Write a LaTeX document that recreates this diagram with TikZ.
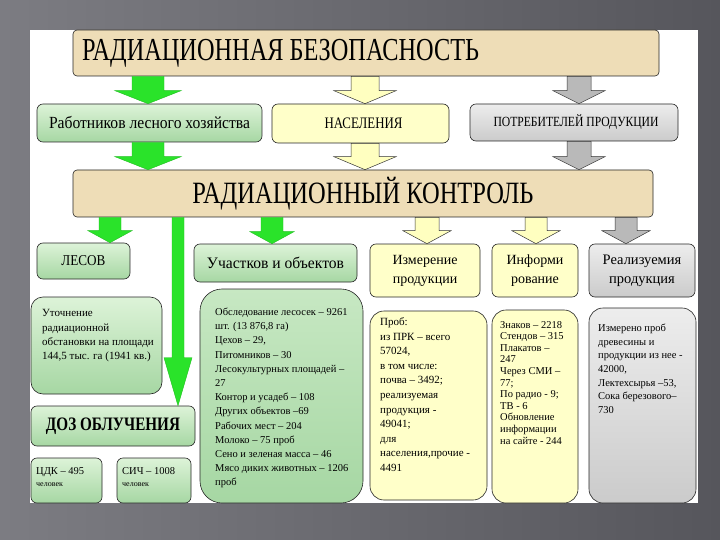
\documentclass[tikz,border=0pt]{standalone}
\usepackage{graphicx}
\usepackage{fontspec}
\setmainfont{Liberation Serif}
\newfontfamily\tms{Liberation Serif}
\usetikzlibrary{calc}
\definecolor{parch}{HTML}{EEDDB7}
\definecolor{gtop}{HTML}{DDF3D8}
\definecolor{gbot}{HTML}{A6D7A3}
\definecolor{yel}{HTML}{FFFFC9}
\definecolor{mtop}{HTML}{EDEDED}
\definecolor{mbot}{HTML}{CBCBCB}
\definecolor{garrow}{HTML}{2AE32A}
\definecolor{garrowd}{HTML}{1EBE1E}
\definecolor{yarrow}{HTML}{FFFFC0}
\definecolor{marrow}{HTML}{B9B9B9}
\definecolor{bgl}{HTML}{7C7C82}
\definecolor{bgr}{HTML}{56565C}
\newcommand\hfit[3]{\resizebox{#1}{\height}{\fontsize{#2}{#2}\selectfont #3}}
\newcommand\bx[7]{\node[#1, minimum width={(#5-#3)*1pt}, minimum height={(#6-#4)*1pt}] (#2) at ({(#3+#5)/2},{(#4+#6)/2}) {#7};}
\newcommand\barr[7]{\path[#1] let \p1=(#3.south), \p2=(#4.north) in
  ({(#2-#5)*1pt},\y1) -- ({(#2+#5)*1pt},\y1) -- ({(#2+#5)*1pt},{\y2+#7*1pt}) -- ({(#2+#6)*1pt},{\y2+#7*1pt}) -- ({#2*1pt},\y2) -- ({(#2-#6)*1pt},{\y2+#7*1pt}) -- ({(#2-#5)*1pt},{\y2+#7*1pt}) -- cycle;}
\tikzset{
  bord/.style={draw=black!85, line width=0.6pt},
  gbox/.style={bord, rounded corners=6pt, top color=gtop, bottom color=gbot, inner sep=0pt},
  ybox/.style={bord, rounded corners=6pt, fill=yel, inner sep=0pt},
  mbox/.style={bord, rounded corners=6pt, top color=mtop, bottom color=mbot, inner sep=0pt},
  pbox/.style={bord, rounded corners=4pt, fill=parch, inner sep=0pt},
  garr/.style={fill=garrow, draw=garrowd, line width=0.4pt},
  yarr/.style={fill=yarrow, draw=black!80, line width=0.5pt},
  marr/.style={fill=marrow, draw=black!80, line width=0.5pt},
  txt/.style={inner sep=0pt, align=left, anchor=north west},
  ctxt/.style={inner sep=0pt, align=center},
}
\begin{document}
\begin{tikzpicture}[x=1pt,y=-1pt, font=\tms]
\useasboundingbox (0,0) rectangle (720,540);
\shade[left color=bgl, right color=bgr] (0,0) rectangle (720,540);
\fill[white] (30,30) rectangle (698,503);

% top title
\bx{pbox}{title}{73}{30}{659}{76}{}
\node[inner sep=0pt, anchor=west] (ttitle) at (82,53) {\hfit{397pt}{32}{РАДИАЦИОННАЯ БЕЗОПАСНОСТЬ}};

% row 2
\bx{gbox}{rab}{37}{104}{262}{142}{\hfit{201pt}{17}{Работников лесного хозяйства}}
\bx{ybox}{nas}{272}{104}{449}{143}{\hspace*{6pt}\hfit{78pt}{16}{НАСЕЛЕНИЯ}}
\bx{mbox}{pot}{470}{104}{678}{141}{\hspace*{4pt}\hfit{165pt}{14}{ПОТРЕБИТЕЛЕЙ ПРОДУКЦИИ}}

% row 3
\bx{pbox}{ctrl}{73}{170}{653}{217}{\hfit{341pt}{31}{РАДИАЦИОННЫЙ КОНТРОЛЬ}}

% row 4
\bx{gbox}{les}{37}{243}{130}{279}{\hfit{44pt}{15}{ЛЕСОВ}}
\bx{gbox}{uch}{194}{244}{357}{282}{\hfit{137pt}{16}{Участков и объектов}}
\bx{ybox}{izm}{370}{244}{480}{297}{}
\node[ctxt, font=\fontsize{14}{19}\selectfont] (tizm) at (izm) {Измерение\\продукции};
\bx{ybox}{inf}{492}{244}{578}{297}{}
\node[ctxt, font=\fontsize{14}{19}\selectfont] (tinf) at (inf) {Информи\\рование};
\bx{mbox}{real}{589}{244}{695}{297}{}
\node[ctxt, font=\fontsize{14.5}{19}\selectfont] (treal) at (real) {Реализуемия\\продукция};

% row 5
\bx{gbox, rounded corners=12pt}{lbox}{31}{297}{162}{394}{}
\node[txt, font=\fontsize{11}{14.3}\selectfont] (tl) at (42,309.5) {Уточнение\\радиационной\\обстановки на площади\\144,5 тыс. га (1941 кв.)};

\bx{gbox, rounded corners=22pt, top color=gtop!60!gbot}{cbox}{200}{289}{363}{503}{}
\node[txt, font=\fontsize{10.5}{14.2}\selectfont] (tc) at (215,307.8) {Обследование лесосек – 9261\\шт. (13 876,8 га)\\Цехов – 29,\\Питомников – 30\\Лесокультурных площадей –\\27\\Контор и усадеб – 108\\Других объектов –69\\Рабочих мест – 204\\Молоко – 75 проб\\Сено и зеленая масса – 46\\Мясо диких животных – 1206\\проб};

\bx{ybox, rounded corners=14pt}{ybox1}{370}{311}{487}{500}{}
\node[txt, font=\fontsize{11}{14.6}\selectfont] (ty1) at (380,317.5) {Проб:\\из ПРК – всего\\57024,\\в том числе:\\почва – 3492;\\реализуемая\\продукция -\\49041;\\для\\населения,прочие -\\4491};

\bx{ybox, rounded corners=14pt}{ybox2}{492}{310}{578}{503}{}
\node[txt, font=\fontsize{10.5}{11.6}\selectfont] (ty2) at (500,321) {Знаков – 2218\\Стендов – 315\\Плакатов –\\247\\Через СМИ –\\77;\\По радио - 9;\\ТВ - 6\\Обновление\\информации\\на сайте - 244};

\bx{mbox, rounded corners=14pt}{mb}{589}{308}{696}{503}{}
\node[txt, font=\fontsize{10.5}{13.6}\selectfont] (tm) at (598,324) {Измерено проб\\древесины и\\продукции из нее -\\42000,\\Лектехсырья –53,\\Сока березового–\\730};

% doses
\bx{gbox}{doz}{31}{406}{195}{446}{\hfit{134pt}{19}{\bfseries ДОЗ ОБЛУЧЕНИЯ}}
\bx{gbox}{cdk}{31}{458}{102}{503}{}
\node[inner sep=0pt, anchor=base west, font=\fontsize{10.5}{12}\selectfont] (tcdk) at (36,474) {ЦДК – 495};
\node[inner sep=0pt, anchor=base west, font=\fontsize{8}{10}\selectfont] (tcdk2) at (36,486) {человек};
\bx{gbox}{sich}{117}{458}{191}{503}{}
\node[inner sep=0pt, anchor=base west, font=\fontsize{10.5}{12}\selectfont] (tsich) at (122,474) {СИЧ – 1008};
\node[inner sep=0pt, anchor=base west, font=\fontsize{8}{10}\selectfont] (tsich2) at (122,486) {человек};

% arrows: title -> row 2
\barr{garr}{148}{title}{rab}{16}{33}{13}
\barr{yarr}{365}{title}{nas}{14}{31}{13}
\barr{marr}{579}{title}{pot}{12}{26}{13}
% row 2 -> row 3
\barr{garr}{148}{rab}{ctrl}{16}{33}{13}
\barr{yarr}{365}{nas}{ctrl}{14}{31}{13}
\barr{marr}{579}{pot}{ctrl}{12}{26}{13}
% row 3 -> row 4
\barr{garr}{110}{ctrl}{les}{11}{22}{12}
\barr{garr}{178}{ctrl}{doz}{6}{14}{48}
\barr{garr}{272}{ctrl}{uch}{11}{22}{12}
\barr{yarr}{427}{ctrl}{izm}{12}{24}{13}
\barr{yarr}{536}{ctrl}{inf}{11}{24}{13}
\barr{marr}{626}{ctrl}{real}{11}{24}{13}
\end{tikzpicture}
\end{document}
